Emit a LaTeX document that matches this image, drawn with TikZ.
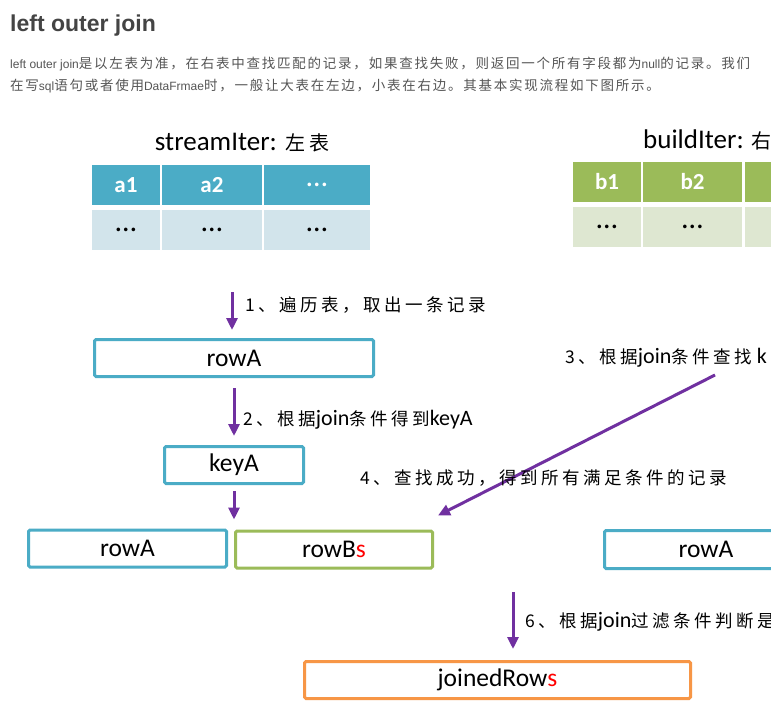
\documentclass[tikz,border=0pt]{standalone}
\usepackage{fontspec}
\setmainfont{Carlito}
\newfontfamily\arial{Liberation Sans}
\newfontfamily\cjk[LetterSpace=13]{Noto Sans CJK SC}
\newfontfamily\cjkl[LetterSpace=20]{Noto Sans CJK SC}
\usetikzlibrary{arrows.meta,calc}
\definecolor{tblue}{HTML}{4BACC6}
\definecolor{tbluel}{HTML}{D2E4EB}
\definecolor{tgreen}{HTML}{9BBB59}
\definecolor{tgreenl}{HTML}{DEE7D1}
\definecolor{torange}{HTML}{F79646}
\definecolor{tpurple}{HTML}{7030A0}
\definecolor{ttitle}{HTML}{444444}
\definecolor{ttext}{HTML}{555555}
\newcommand\zh[2][17.5]{{\cjkl\fontsize{#1}{#1}\selectfont #2}}
\newcommand\zhp[1]{{\cjk\fontsize{13.5}{16}\selectfont #1}}
\tikzset{
	box/.style={draw=#1, line width=3pt, rounded corners=1.5pt, inner sep=0pt,
		minimum height=37pt, text=black, font=\fontsize{25.5}{30}\selectfont},
	head/.style={fill=#1, text=white, inner sep=0pt, minimum height=40pt,
		font=\bfseries\fontsize{23}{26}\selectfont},
	body/.style={fill=#1, text=black, inner sep=0pt, minimum height=40pt,
		font=\fontsize{23}{26}\selectfont},
	etc/.style={font=\fontsize{30}{30}\selectfont},
	flow/.style={draw=tpurple, line width=3pt, -{Triangle[width=11pt,length=12pt]}},
	note/.style={anchor=west, inner sep=0pt, text=black, font=\fontsize{22}{22}\selectfont},
}

\begin{document}
\begin{tikzpicture}[x=1pt,y=-1pt]
\useasboundingbox (0,0) rectangle (771,717);
\clip (0,0) rectangle (771,717);
\fill[white] (0,0) rectangle (771,717);
% heading and text
\node[anchor=base west, inner sep=0pt, text=ttitle, font=\arial\bfseries\fontsize{23}{26}\selectfont] (title) at (10,32) {left outer join};
\node[anchor=base west, inner sep=0pt, text=ttext, font=\arial\fontsize{12}{14}\selectfont] (intro1) at (10,68) {left outer join\zhp{是以左表为准，在右表中查找匹配的记录，如果查找失败，则返回一个所有字段都为}null\zhp{的记录。我们}};
\node[anchor=base west, inner sep=0pt, text=ttext, font=\arial\fontsize{12}{14}\selectfont] (intro2) at (10,91) {\zhp{在写}sql\zhp{语句或者使用}DataFrmae\zhp{时，一般让大表在左边，小表在右边。其基本实现流程如下图所示。}};
% left table
\node[inner sep=0pt, font=\fontsize{27}{30}\selectfont] (sname) at (242,143) {streamIter: \zh[20]{左表}};
\node[head=tblue, minimum width=68pt] (a1) at (126,185) {a1};
\node[head=tblue, minimum width=100pt] (a2) at (212,185) {a2};
\node[head=tblue, etc, minimum width=106pt] (a3) at (317,185) {…};
\node[body=tbluel, etc, minimum width=68pt] (ad1) at (126,230) {…};
\node[body=tbluel, etc, minimum width=100pt] (ad2) at (212,230) {…};
\node[body=tbluel, etc, minimum width=106pt] (ad3) at (317,230) {…};
% right table
\node[anchor=west, inner sep=0pt, font=\fontsize{27}{30}\selectfont] (bname) at (643,140) {buildIter: \zh[20]{右}};
\node[head=tgreen, minimum width=68pt] (b1) at (607,182) {b1};
\node[head=tgreen, minimum width=99pt] (b2) at (692.5,182) {b2};
\node[head=tgreen, minimum width=106pt] (b3) at (798,182) {};
\node[body=tgreenl, etc, minimum width=68pt] (bd1) at (607,227) {…};
\node[body=tgreenl, etc, minimum width=99pt] (bd2) at (692.5,227) {…};
\node[body=tgreenl, minimum width=106pt] (bd3) at (798,227) {};
% rows
\node[box=tblue, minimum width=279pt] (rowA) at (234,358) {rowA};
\node[box=tblue, minimum width=139pt] (keyA) at (234,465) {keyA};
\node[box=tblue, minimum width=198pt] (rowAl) at (127.5,548.5) {rowA};
\node[box=tgreen, minimum width=197pt] (rowBs) at (334,549.5) {rowB\textcolor{red}{s}};
\node[box=tblue, minimum width=203pt, minimum height=38pt] (rowAr) at (706,549.5) {rowA};
\node[box=torange, minimum width=386pt] (joined) at (497.5,680) {joinedRow\textcolor{red}{s}};
% steps
\coordinate (s1) at (232,292);
\coordinate (s3) at (715,375);
\coordinate (t3) at ($(rowBs.north east)+(4,-14)$);
\coordinate (s6) at (513,592);
\draw[flow, shorten >=8pt] (s1) -- (s1 |- rowA.north);
\draw[flow, shorten <=10pt, shorten >=9pt] (rowA.south) -- (keyA.north);
\draw[flow, shorten <=6pt, shorten >=10pt] (keyA.south) -- (keyA.south |- rowBs.north);
\draw[flow] (s3) -- (t3);
\draw[flow, shorten >=11pt] (s6) -- (s6 |- joined.north);
\node[note] (l1) at (245,305) {\zh{1、遍历表，取出一条记录}};
\node[note] (l2) at (243,420) {\zh{2、根据}join\zh{条件得到}keyA};
\node[note] (l3) at (565,358) {\zh{3、根据}join\zh{条件查找} k};
\node[note] (l4) at (360,478) {\zh{4、查找成功，得到所有满足条件的记录}};
\node[note] (l6) at (525,622) {\zh{6、根据}join\zh{过滤条件判断是}};
\end{tikzpicture}
\end{document}
